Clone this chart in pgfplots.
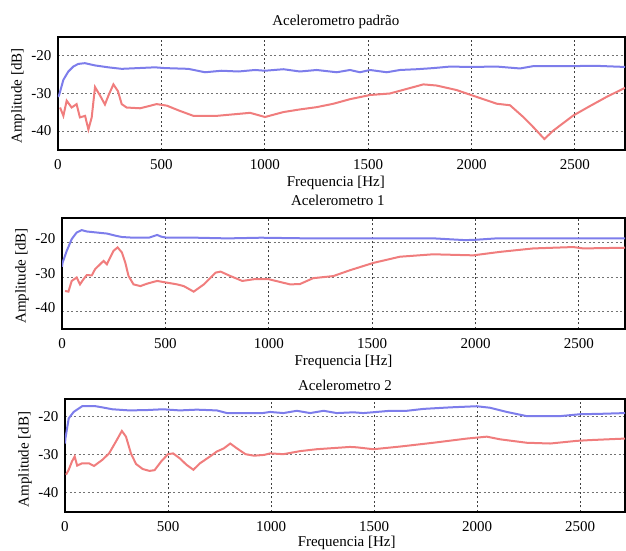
\documentclass[border=0pt]{standalone}
\usepackage{fontspec}
\setmainfont{Liberation Serif}
\usepackage{pgfplots}
\pgfplotsset{compat=1.18}

\definecolor{blueL}{RGB}{125,125,235}
\definecolor{redL}{RGB}{240,125,125}
\newcommand{\fs}{\fontsize{15}{18}\selectfont}

\pgfplotsset{
  panel/.style={
    scale only axis,
    xmin=0, ymin=-45,
    xtick={0,500,1000,1500,2000,2500},
    ytick={-40,-30,-20},
    major tick length=0pt,
    grid=major,
    major x grid style={black!75, dash pattern=on 2pt off 2.5pt, line width=1pt},
    major y grid style={black!55, dash pattern=on 2pt off 2.5pt, line width=1pt},
    axis line style={line width=1.6pt},
    tick label style={font=\fs},
    /pgf/number format/assume math mode=true,
    /pgf/number format/set thousands separator={},
    yticklabel style={xshift=-3pt},
    xticklabel style={yshift=-6pt},
    label style={font=\fs},
    every axis title shift=0pt,
    title style={font=\fs, anchor=center},
    xlabel={Frequencia [Hz]},
    ylabel={Amplitude [dB]},
    every axis plot/.append style={line width=2pt, no marks},
  },
}

\begin{document}
\begin{tikzpicture}
\useasboundingbox (0,0) rectangle (626pt,551pt);

% Acelerometro padrao
\begin{axis}[panel, at={(58pt,401pt)}, anchor=south west,
  width=567pt, height=113pt, xmax=2742, ymax=-15.2,
  title={Acelerometro padrão},
  title style={at={(axis description cs:0.49,1.133)}},
  xlabel style={at={(axis description cs:0.49,-0.292)}, anchor=center},
  ylabel style={at={(axis description cs:-0.0705,0.478)}, anchor=center}]
\addplot[blueL] coordinates {
(0,-31) (5,-30.6) (26,-26.5) (50,-24.3) (74,-23.0) (98,-22.3) (130,-22.1)
(179,-22.7) (243,-23.2) (308,-23.6) (388,-23.4) (469,-23.2) (517,-23.4)
(630,-23.6) (711,-24.5) (791,-24.1) (872,-24.3) (953,-23.9) (1001,-24.1)
(1090,-23.7) (1170,-24.3) (1251,-23.9) (1348,-24.5) (1412,-23.9) (1460,-24.5)
(1509,-23.9) (1590,-24.5) (1654,-23.9) (1735,-23.7) (1815,-23.4) (1896,-23.0)
(1992,-23.1) (2122,-23.0) (2234,-23.5) (2297,-22.9) (2450,-22.9) (2600,-22.8)
(2742,-23.1)
};
\addplot[redL] coordinates {
(10,-33.8) (26,-36.0) (42,-32.0) (66,-33.8) (90,-32.9) (106,-36.4) (131,-36.0)
(147,-39.6) (163,-36.4) (179,-28.4) (203,-30.6) (227,-33.0) (245,-30.5)
(268,-27.7) (290,-29.5) (308,-32.9) (332,-33.8) (397,-34.0) (477,-32.9)
(526,-33.3) (590,-34.7) (655,-36.0) (767,-36.0) (848,-35.6) (929,-35.2)
(1001,-36.3) (1090,-35.0) (1170,-34.3) (1251,-33.7) (1332,-32.8) (1412,-31.6)
(1509,-30.5) (1605,-30.1) (1686,-28.9) (1767,-27.7) (1831,-28.0) (1896,-28.8)
(1928,-29.2) (1992,-30.4) (2057,-31.6) (2122,-32.8) (2186,-33.2) (2250,-36.3)
(2299,-39.0) (2352,-42.1) (2395,-39.9) (2492,-35.9) (2573,-33.4) (2653,-31.0)
(2742,-28.6)
};
\end{axis}

% Acelerometro 1
\begin{axis}[panel, at={(62pt,222pt)}, anchor=south west,
  width=563pt, height=111pt, xmax=2723, ymax=-12.9,
  yticklabel style={yshift=4pt},
  title={Acelerometro 1},
  title style={at={(axis description cs:0.49,1.162)}},
  xlabel style={at={(axis description cs:0.50,-0.297)}, anchor=center},
  ylabel style={at={(axis description cs:-0.071,0.477)}, anchor=center}]
\addplot[blueL] coordinates {
(0,-27) (3,-25.8) (23,-22.4) (47,-19.0) (71,-17.1) (95,-16.4) (120,-16.8)
(168,-17.1) (217,-17.4) (265,-18.1) (290,-18.4) (346,-18.6) (420,-18.6)
(460,-17.8) (480,-18.3) (508,-18.6) (650,-18.6) (800,-18.8) (961,-18.6)
(1200,-18.8) (1500,-18.8) (1800,-18.8) (1950,-19.3) (2000,-19.2) (2100,-18.8)
(2400,-18.8) (2723,-18.8)
};
\addplot[redL] coordinates {
(15,-34.0) (31,-34.2) (47,-31.1) (71,-30.1) (87,-32.1) (104,-30.6) (120,-29.4)
(144,-29.5) (160,-27.7) (184,-26.3) (201,-25.3) (217,-26.3) (233,-24.3)
(249,-22.4) (269,-21.4) (290,-22.9) (306,-25.8) (322,-29.7) (346,-32.1)
(379,-32.6) (411,-31.9) (460,-31.1) (508,-31.6) (557,-32.1) (589,-32.6)
(637,-34.2) (686,-32.1) (743,-28.7) (767,-28.4) (815,-29.7) (872,-31.1)
(929,-30.6) (1000,-30.6) (1103,-32.1) (1151,-32.0) (1215,-30.3) (1312,-29.7)
(1393,-28.0) (1505,-25.9) (1634,-24.1) (1795,-23.4) (1989,-23.7) (2118,-22.7)
(2279,-21.7) (2473,-21.3) (2521,-21.7) (2723,-21.5)
};
\end{axis}

% Acelerometro 2
\begin{axis}[panel, at={(65pt,39pt)}, anchor=south west,
  width=560pt, height=113pt, xmax=2718, ymax=-15.3,
  title={Acelerometro 2},
  title style={at={(axis description cs:0.50,1.124)}},
  xlabel style={at={(axis description cs:0.503,-0.274)}, anchor=center},
  ylabel style={at={(axis description cs:-0.0714,0.465)}, anchor=center}]
\addplot[blueL] coordinates {
(0,-27) (2,-25.7) (18,-20.4) (42,-18.7) (83,-17.2) (149,-17.2) (181,-17.5)
(230,-18.0) (312,-18.3) (400,-18.2) (475,-18.0) (557,-18.3) (639,-18.1)
(737,-18.3) (786,-19.0) (884,-19.0) (959,-19.0) (995,-18.7) (1060,-19.0)
(1125,-18.4) (1190,-19.0) (1255,-18.4) (1319,-19.0) (1400,-18.8) (1448,-19.0)
(1513,-18.7) (1578,-18.4) (1659,-18.4) (1740,-17.9) (1869,-17.5) (1998,-17.2)
(2063,-17.6) (2144,-18.7) (2241,-19.8) (2403,-19.8) (2500,-19.3) (2597,-19.2)
(2718,-19.0)
};
\addplot[redL] coordinates {
(5,-35.2) (18,-33.9) (34,-31.7) (47,-30.4) (59,-32.8) (83,-32.2) (116,-32.2)
(141,-32.9) (181,-31.3) (214,-29.6) (247,-26.5) (276,-23.7) (296,-25.2)
(320,-29.6) (345,-32.4) (377,-33.7) (410,-34.2) (435,-34.0) (467,-31.7)
(500,-29.8) (525,-29.6) (557,-30.9) (590,-32.6) (623,-33.9) (655,-32.2)
(704,-30.4) (737,-29.1) (770,-28.3) (802,-27.0) (835,-28.3) (876,-29.8)
(917,-30.2) (966,-30.0) (995,-29.6) (1060,-29.8) (1141,-29.0) (1222,-28.5)
(1383,-27.9) (1416,-28.0) (1497,-28.5) (1626,-27.8) (1788,-26.8) (1950,-25.7)
(2047,-25.2) (2112,-25.9) (2241,-26.8) (2355,-27.0) (2484,-26.3) (2549,-26.1)
(2718,-25.7)
};
\end{axis}
\end{tikzpicture}
\end{document}
